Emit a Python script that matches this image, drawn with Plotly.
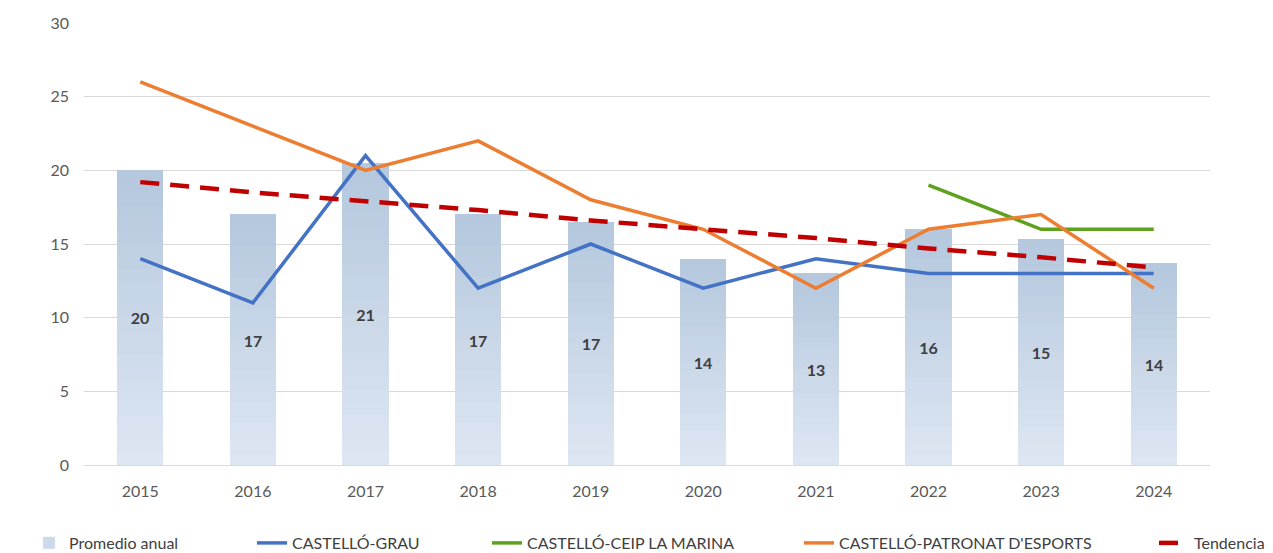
import plotly.graph_objects as go

years = ["2015", "2016", "2017", "2018", "2019", "2020", "2021", "2022", "2023", "2024"]
promedio = [20, 17, 20.5, 17, 16.5, 14, 13, 16, 15.33, 13.67]
promedio_labels = ["20", "17", "21", "17", "17", "14", "13", "16", "15", "14"]
grau = [14, 11, 21, 12, 15, 12, 14, 13, 13, 13]
ceip = [None, None, None, None, None, None, None, 19, 16, 16]
patronat = [26, 23, 20, 22, 18, 16, 12, 16, 17, 12]
tendencia = [19.2, 18.5, 17.9, 17.3, 16.6, 16.0, 15.4, 14.7, 14.1, 13.4]

FONT = "Lato"
BAR_W = 0.41
top_rgb = (180, 199, 221)
bot_rgb = (222, 231, 243)
N = 24

# page body has an 8px margin: work in figure coordinates = screen - 8
OFF = 8
W, H = 1273 - OFF, 553 - OFF

fig = go.Figure()

# gradient bars (bands, bottom light -> top dark)
for i in range(N):
    t = (i + 0.5) / N
    c = tuple(round(bot_rgb[k] + (top_rgb[k] - bot_rgb[k]) * t) for k in range(3))
    fig.add_trace(go.Bar(
        x=years, y=[v / N * 1.02 for v in promedio], base=[v * i / N for v in promedio],
        width=BAR_W, marker=dict(color="rgb(%d,%d,%d)" % c, line=dict(width=0)),
        showlegend=False, hoverinfo="skip"))

# labels
fig.add_trace(go.Bar(
    x=years, y=promedio, width=BAR_W, text=promedio_labels,
    textposition="inside", insidetextanchor="middle", textangle=0,
    textfont=dict(family=FONT, size=16, color="#404040", weight="bold"),
    marker=dict(color="rgba(0,0,0,0)", line=dict(width=0)),
    showlegend=False, hoverinfo="skip", cliponaxis=False))

# legend entry for bars
fig.add_trace(go.Bar(x=[None], y=[None], name="Promedio anual",
                     marker=dict(color="#cbd9ea"), legend="legend"))

fig.add_trace(go.Scatter(x=years, y=grau, mode="lines", name="CASTELLÓ-GRAU",
                         line=dict(color="#4472c4", width=3.5), legend="legend2"))
fig.add_trace(go.Scatter(x=years, y=ceip, mode="lines", name="CASTELLÓ-CEIP LA MARINA",
                         line=dict(color="#5ea11e", width=3.5), legend="legend3"))
fig.add_trace(go.Scatter(x=years, y=patronat, mode="lines", name="CASTELLÓ-PATRONAT D'ESPORTS",
                         line=dict(color="#ed7d31", width=3.5), legend="legend4"))
fig.add_trace(go.Scatter(x=years, y=tendencia, mode="lines", name="Tendencia",
                         line=dict(color="#c00000", width=4.5, dash="19px,11px"), legend="legend5"))

text_starts = [69, 292, 527, 839, 1194]
leg_common = dict(orientation="h", xref="container", yref="container",
                  y=(H - (543 - OFF)) / H, yanchor="middle", xanchor="left",
                  font=dict(family=FONT, size=16, color="#404040"),
                  bgcolor="rgba(0,0,0,0)", borderwidth=0, itemwidth=30)
layout_legends = {}
for k, xs in enumerate(text_starts):
    key = "legend" if k == 0 else "legend%d" % (k + 1)
    layout_legends[key] = dict(leg_common, x=(xs - OFF - 40) / W)

plot_l, plot_r, plot_t, plot_b = 84 - OFF, 1210 - OFF, 23 - OFF, 465 - OFF

fig.update_layout(
    width=W, height=H,
    margin=dict(l=plot_l, r=W - plot_r, t=plot_t, b=H - plot_b, autoexpand=False),
    plot_bgcolor="white", paper_bgcolor="white",
    barmode="overlay", bargap=0,
    font=dict(family=FONT, size=16, color="#595959"),
    xaxis=dict(type="category", showgrid=False, showline=True, linecolor="#d9d9d9",
               linewidth=1, ticks="", tickfont=dict(family=FONT, size=16, color="#595959"),
               ticklabelstandoff=12),
    yaxis=dict(range=[0, 30], dtick=5, showgrid=True, gridcolor="#d9d9d9", gridwidth=1,
               zeroline=False, showline=False, ticks="",
               tickfont=dict(family=FONT, size=16, color="#595959"),
               ticklabelstandoff=14),
    showlegend=True,
    **layout_legends,
)

fig.write_html("out.html")
